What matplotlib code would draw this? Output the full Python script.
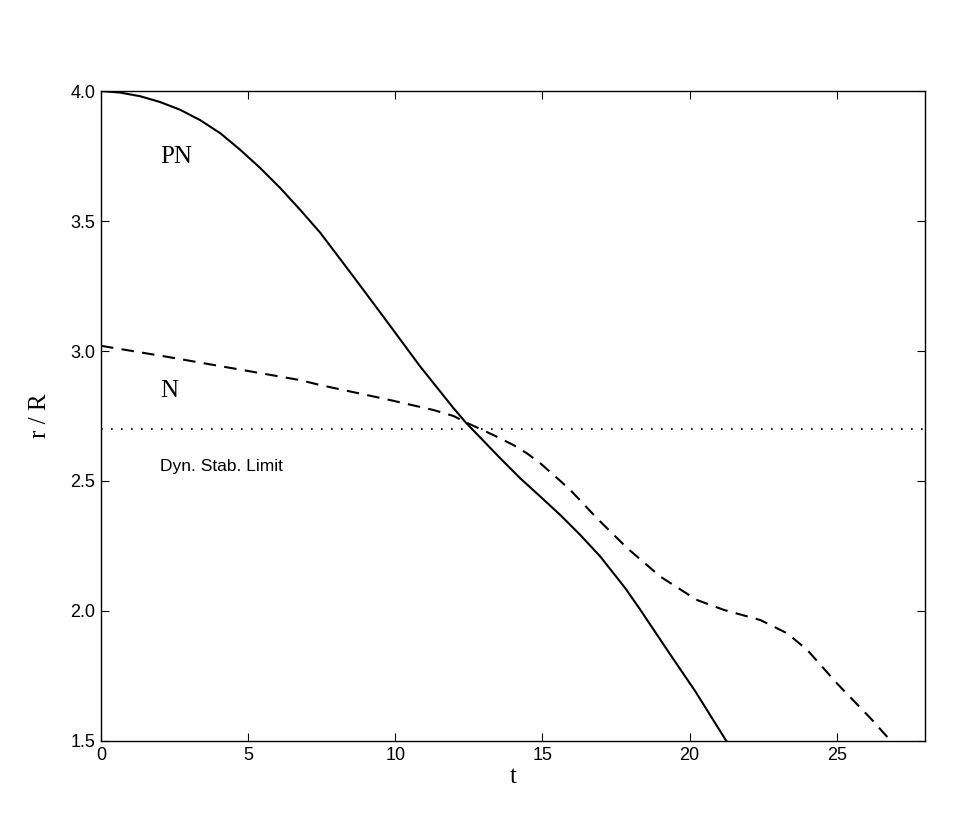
import matplotlib
matplotlib.use("Agg")
import matplotlib.pyplot as plt

# Post-Newtonian (PN) run, solid
t_pn = [0, 0.65, 1.33, 2.0, 2.69, 3.37, 4.05, 4.73, 5.41, 6.09, 6.77, 7.45,
        8.58, 9.72, 10.85, 11.98, 12.41, 12.89, 13.57, 14.25, 14.93, 15.61,
        16.29, 16.97, 17.82, 18.33, 19.24, 20.2, 21.25]
r_pn = [4.0, 3.994, 3.98, 3.958, 3.928, 3.888, 3.838, 3.774, 3.704, 3.627, 3.543, 3.455,
        3.286, 3.113, 2.94, 2.78, 2.723, 2.667, 2.587, 2.51, 2.44, 2.369,
        2.292, 2.209, 2.087, 2.004, 1.85, 1.69, 1.50]

# Newtonian (N) run, dashed
t_n = [0, 2.23, 4.5, 6.77, 7.45, 9.72, 11.3, 11.98, 12.41, 12.89, 13.46, 14.02,
       14.48, 14.93, 15.61, 15.95, 16.86, 17.88, 19.01, 20.03, 20.26, 21.17, 22.41,
       23.32, 24.0, 25.02, 26.16, 26.84]
r_n = [3.02, 2.978, 2.933, 2.888, 2.869, 2.814, 2.773, 2.75, 2.725, 2.70, 2.670, 2.638,
       2.606, 2.568, 2.50, 2.465, 2.356, 2.242, 2.132, 2.058, 2.042, 2.004, 1.965,
       1.914, 1.85, 1.72, 1.586, 1.50]

stab_limit = 2.7
x_ticks = [0, 5, 10, 15, 20, 25]
y_ticks = [1.5, 2.0, 2.5, 3.0, 3.5, 4.0]

fig = plt.figure(figsize=(9.69, 8.32), dpi=100)
ax = fig.add_axes([0.1042, 0.1094, 0.8504, 0.7812])

ax.plot(t_pn, r_pn, color="black", lw=1.5, solid_joinstyle="round")
ax.plot(t_n, r_n, color="black", lw=1.5, dashes=(6, 4))
ax.axhline(stab_limit, color="black", lw=1.2, dashes=(1, 5))

ax.set_xlim(0, 28)
ax.set_ylim(1.5, 4.0)
ax.set_xticks(x_ticks)
ax.set_yticks(y_ticks)
ax.set_xticklabels([str(v) for v in x_ticks], family="Liberation Sans", fontsize=13)
ax.set_yticklabels([f"{v:.1f}" for v in y_ticks], family="Liberation Sans", fontsize=13)
ax.tick_params(direction="in", length=6, width=0.8, top=True, right=True, pad=4)
for s in ax.spines.values():
    s.set_linewidth(1.0)

ax.set_xlabel("t", family="Liberation Serif", fontsize=18, labelpad=2)
ax.set_ylabel("r / R", family="Liberation Serif", fontsize=18, labelpad=14)

ax.text(2.0, 3.723, "PN", family="Liberation Serif", fontsize=18, ha="left", va="baseline")
ax.text(2.0, 2.823, "N", family="Liberation Serif", fontsize=18, ha="left", va="baseline")
ax.text(2.0, 2.538, "Dyn. Stab. Limit", family="Liberation Sans", fontsize=12.5,
        ha="left", va="baseline")

fig.savefig("out.png", dpi=100)
